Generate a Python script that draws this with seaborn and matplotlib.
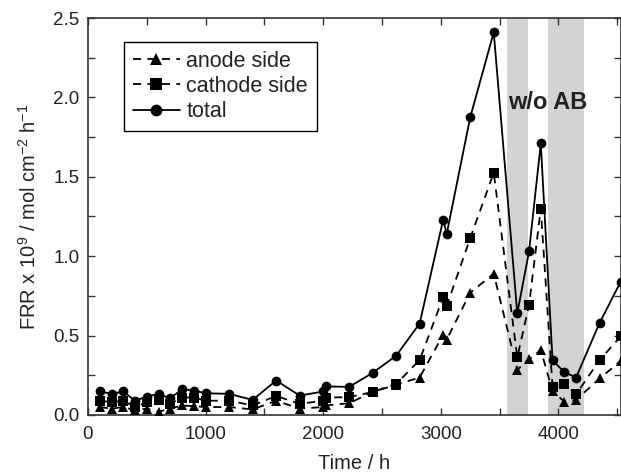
import numpy as np
import pandas as pd
import matplotlib
matplotlib.use("Agg")
import matplotlib.pyplot as plt
import seaborn as sns
from matplotlib.ticker import MultipleLocator

time_h = [100, 200, 300, 400, 500, 600, 700, 800, 900, 1000, 1200, 1400, 1600, 1800,
          2000, 2020, 2220, 2420, 2620, 2820, 3020, 3050, 3250, 3450, 3650, 3750,
          3850, 3950, 4050, 4150, 4350, 4530]
total = [0.148, 0.133, 0.148, 0.09, 0.116, 0.133, 0.105, 0.163, 0.154, 0.137, 0.133,
         0.095, 0.217, 0.122, 0.148, 0.18, 0.177, 0.265, 0.373, 0.576, 1.23, 1.14,
         1.875, 2.41, 0.64, 1.03, 1.71, 0.344, 0.27, 0.236, 0.58, 0.84]
cathode = [0.09, 0.08, 0.09, 0.05, 0.08, 0.095, 0.07, 0.11, 0.11, 0.09, 0.09, 0.06,
           0.12, 0.07, 0.09, 0.11, 0.112, 0.145, 0.195, 0.346, 0.742, 0.686, 1.114,
           1.525, 0.363, 0.69, 1.30, 0.175, 0.195, 0.13, 0.346, 0.495]
anode = [0.05, 0.04, 0.05, 0.03, 0.04, 0.02, 0.04, 0.06, 0.055, 0.05, 0.05, 0.035,
         0.09, 0.04, 0.05, 0.06, 0.074, 0.145, 0.19, 0.236, 0.506, 0.475, 0.77, 0.89,
         0.285, 0.35, 0.41, 0.15, 0.084, 0.095, 0.23, 0.34]
bands = [(3560, 3740), (3910, 4220)]
series_names = ["anode side", "cathode side", "total"]

sns.set_style("ticks")
plt.rcParams['font.family'] = ['Liberation Sans', 'DejaVu Sans']
plt.rcParams['mathtext.fontset'] = 'custom'
plt.rcParams['mathtext.rm'] = 'Liberation Sans'
plt.rcParams['mathtext.it'] = 'Liberation Sans'

df = pd.DataFrame({
    "time": time_h * 3,
    "value": anode + cathode + total,
    "series": [series_names[0]] * len(time_h) + [series_names[1]] * len(time_h) + [series_names[2]] * len(time_h),
})

fig = plt.figure(figsize=(6.21, 4.74), dpi=100)
ax = fig.add_axes([0.1417, 0.1245, 0.8583, 0.8375])

for lo, hi in bands:
    ax.axvspan(lo, hi, color="#d3d3d3", lw=0, zorder=0)

sns.lineplot(data=df, x="time", y="value", hue="series", style="series",
             hue_order=series_names, style_order=series_names,
             palette=["black", "black", "black"],
             markers={"anode side": "^", "cathode side": "s", "total": "o"},
             dashes={"anode side": (4.5, 3.5), "cathode side": (4.5, 3.5), "total": ""},
             markersize=7, markeredgewidth=0, linewidth=1.3, sort=False,
             estimator=None, ax=ax, zorder=3)

ax.set_xlim(0, 4532)
ax.set_ylim(0, 2.5)
ax.xaxis.set_major_locator(MultipleLocator(1000))
ax.xaxis.set_minor_locator(MultipleLocator(500))
ax.yaxis.set_major_locator(MultipleLocator(0.5))
ax.yaxis.set_minor_locator(MultipleLocator(0.25))
ax.yaxis.set_major_formatter(matplotlib.ticker.FormatStrFormatter('%.1f'))
ax.tick_params(which="both", direction="in", top=True, right=True, labelsize=13.5,
               color="#333333", labelcolor="#222222")
ax.tick_params(axis="x", which="both", pad=8)
ax.tick_params(axis="y", which="both", pad=6)
ax.tick_params(which="major", length=5, width=1)
ax.tick_params(which="minor", length=5, width=1)
for s in ax.spines.values():
    s.set_linewidth(1.2)
    s.set_color("#333333")

ax.set_xlabel("Time / h", fontsize=14.5, labelpad=8, color="#222222")
ax.set_ylabel("FRR x 10$^{9}$ / mol cm$^{-2}$ h$^{-1}$", fontsize=14.5, labelpad=10,
              color="#222222")

ax.text(3905, 1.97, "w/o AB", fontsize=17, fontweight="bold", ha="center", va="center",
        color="#222222")

leg = ax.legend(loc="upper left", bbox_to_anchor=(0.0675, 0.9395), borderaxespad=0,
                fontsize=15.5, frameon=True, fancybox=False, edgecolor="black",
                framealpha=1, handlelength=2.2, handletextpad=0.3, borderpad=0.4,
                labelspacing=0.2, labelcolor="#222222")
leg.get_frame().set_linewidth(1.0)
for h in leg.legend_handles:
    h.set_markersize(8.5)

fig.savefig("out.png", dpi=100)
